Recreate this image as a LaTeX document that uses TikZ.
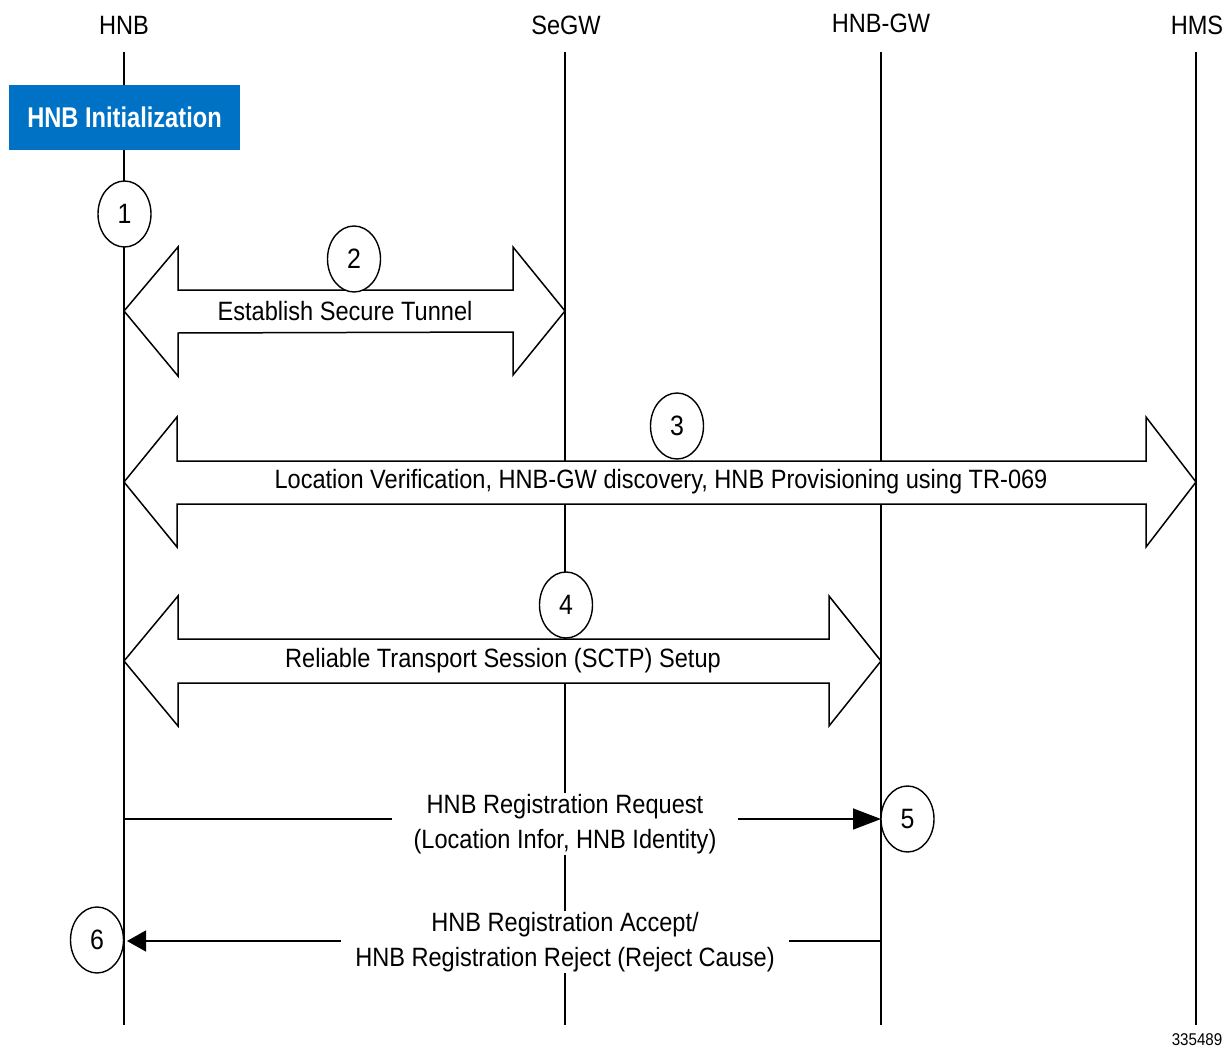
\documentclass[tikz,border=0pt]{standalone}
\usepackage{fontspec}
\setmainfont{Liberation Sans}[FakeStretch=0.89]
\usetikzlibrary{shapes.geometric,arrows.meta,calc}
\definecolor{ciscoblue}{RGB}{0,114,198}
\tikzset{
  lbl/.style={font=\fontsize{26.5}{35}\selectfont, inner sep=0pt},
  life/.style={line width=1.6pt},
  stepnum/.style={ellipse, draw, line width=1.4pt, fill=white, minimum width=53pt, minimum height=66pt, inner sep=0pt, font=\fontsize{28}{30}\selectfont},
  bigarrow/.style={draw, line width=1.5pt, fill=white, line join=miter},
  msg/.style={line width=1.5pt},
  msgtext/.style={fill=white, align=center, font=\fontsize{26.5}{35}\selectfont, inner ysep=1pt},
  initbox/.style={fill=ciscoblue, text=white, minimum width=231pt, minimum height=65pt, inner sep=0pt, font=\fontsize{28.5}{30}\selectfont\bfseries},
}
\begin{document}
\begin{tikzpicture}[x=1pt,y=-1pt]
\useasboundingbox (0,0) rectangle (1229,1049);
% lifeline headers
\node[lbl] (hnb) at (124,25) {HNB};
\node[lbl] (segw) at (566,25) {SeGW};
\node[lbl] (hnbgw) at (881,23) {HNB-GW};
\node[lbl] (hms) at (1197,25) {HMS};
% lifeline ends
\coordinate (hnbT) at (124,52);  \coordinate (hnbB) at (124,1025);
\coordinate (segwT) at (565,52); \coordinate (segwB) at (565,1025);
\coordinate (gwT) at (881,52);   \coordinate (gwB) at (881,1025);
\coordinate (hmsT) at (1196,52); \coordinate (hmsB) at (1196,1025);
\draw[life] (hnbT) -- (hnbB);
\draw[life] (segwT) -- (segwB);
\draw[life] (gwT) -- (gwB);
\draw[life] (hmsT) -- (hmsB);
% init box
\node[initbox] (init) at (124.5,117.5) {\addfontfeature{FakeStretch=0.83}HNB Initialization};
% step 1
\node[stepnum] (s1) at (124.5,214) {1};
% arrow 2: HNB <-> SeGW
\coordinate (a2L) at (124,311); \coordinate (a2R) at (565,311);
\draw[bigarrow] (a2L) -- ++(54,-64) -- ++(0,43) -- ($(a2R)+(-52,-21)$) -- ++(0,-43) -- (a2R) -- ++(-52,64) -- ++(0,-43) -- ($(a2L)+(54,22)$) -- ++(0,43) -- cycle;
\node[stepnum] (s2) at (354,259) {2};
\node[lbl] (t2) at (345,311) {Establish Secure Tunnel};
% arrow 3: HNB <-> HMS
\coordinate (a3L) at (124,482); \coordinate (a3R) at (1196,482);
\draw[bigarrow] (a3L) -- ++(53,-65) -- ++(0,44) -- ($(a3R)+(-50,-21)$) -- ++(0,-44) -- (a3R) -- ++(-50,65) -- ++(0,-43) -- ($(a3L)+(53,22)$) -- ++(0,43) -- cycle;
\node[stepnum] (s3) at (677,426) {3};
\node[lbl] (t3) at (661,482) {Location Verification, HNB-GW discovery, HNB Provisioning using TR-069};
% arrow 4: HNB <-> HNB-GW
\coordinate (a4L) at (124,661); \coordinate (a4R) at (881,661);
\draw[bigarrow] (a4L) -- ++(54,-65) -- ++(0,43) -- ($(a4R)+(-52,-22)$) -- ++(0,-43) -- (a4R) -- ++(-52,65) -- ++(0,-43) -- ($(a4L)+(54,22)$) -- ++(0,43) -- cycle;
\node[stepnum] (s4) at (566,605) {4};
\node[lbl] (t4) at (503,661) {Reliable Transport Session (SCTP) Setup};
% message 5
\coordinate (m5L) at (124,819); \coordinate (m5R) at (881,819);
\draw[msg, -{Triangle[length=28pt,width=21pt]}] (m5L) -- (m5R);
\node[msgtext, inner xsep=22pt] (t5) at (565,824) {HNB Registration Request\\(Location Infor, HNB Identity)};
\node[stepnum] (s5) at (907.5,819) {5};
% message 6
\coordinate (m6L) at (127,941); \coordinate (m6R) at (881,941);
\draw[msg, -{Triangle[length=19pt,width=21pt]}] (m6R) -- (m6L);
\node[msgtext, inner xsep=14pt] (t6) at (565,942) {HNB Registration Accept/\\HNB Registration Reject (Reject Cause)};
\node[stepnum] (s6) at (97,940) {6};
% figure id
\node[font=\fontsize{17}{18}\selectfont, inner sep=0pt] (fid) at (1197,1040) {335489};
\end{tikzpicture}
\end{document}
